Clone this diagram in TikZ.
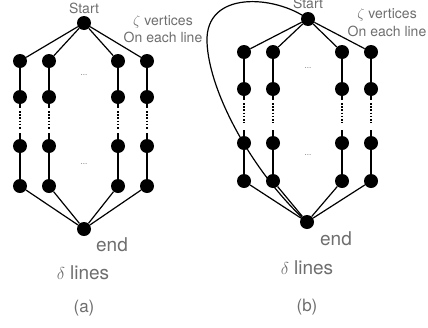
\documentclass[tikz,border=0pt]{standalone}
\usepackage{fontspec}
\setmainfont{TeX Gyre Heros}
\begin{document}
\begin{tikzpicture}[x=1pt,y=-1pt,
  vtx/.style={circle,fill=black,inner sep=0pt,minimum size=14pt},
  edge/.style={line width=1.2pt,black},
  dotseg/.style={line width=1.2pt,black,dash pattern=on 1.6pt off 1.6pt},
  lbl/.style={text=black!57,inner sep=0pt,font=\fontsize{14}{14}\selectfont},
  big/.style={text=black!57,inner sep=0pt,font=\fontsize{19}{19}\selectfont},
  captxt/.style={text=black!57,inner sep=0pt,font=\fontsize{17}{17}\selectfont},
  ell/.style={text=black!57,inner sep=0pt,font=\fontsize{8}{8}\selectfont}]
\useasboundingbox (0,0) rectangle (428,327);
% ---------- panel (a) ----------
\node[vtx] (sa) at (84,23) {};
\node[vtx] (ea) at (84,229) {};
\foreach \c/\x in {1/20,2/49,3/118,4/147}{
  \node[vtx] (a\c1) at (\x,61) {};
  \node[vtx] (a\c2) at (\x,97) {};
  \node[vtx] (a\c3) at (\x,146) {};
  \node[vtx] (a\c4) at (\x,186) {};
  \draw[edge] (sa) -- (a\c1);
  \draw[edge] (a\c1) -- (a\c2);
  \draw[edge] (a\c2.center) -- ++(0,11) coordinate (a\c u);
  \draw[dotseg] ([yshift=-3pt]a\c u) -- ([yshift=-21pt]a\c u);
  \draw[edge] (a\c3.center) -- ++(0,-13);
  \draw[edge] (a\c3) -- (a\c4);
  \draw[edge] (a\c4) -- (ea);
}
\node[lbl] (sta) at (84,8) {Start};
\node[lbl] (za) at (163,22) {$\zeta$ vertices};
\node[lbl] (oa) at (163,37) {On each line};
\node[ell] (d1a) at (84,75) {...};
\node[ell] (d2a) at (84,164) {...};
\node[big] (ena) at (112,245) {end};
\node[big] (dla) at (83,273) {$\delta$ lines};
\node[captxt] (ca) at (84,308) {(a)};
% ---------- panel (b) ----------
\node[vtx] (sb) at (308,19) {};
\node[vtx] (eb) at (307,222) {};
\foreach \c/\x in {1/244,2/273,3/342,4/371}{
  \node[vtx] (b\c1) at (\x,52) {};
  \node[vtx] (b\c2) at (\x,89) {};
  \node[vtx] (b\c3) at (\x,143) {};
  \node[vtx] (b\c4) at (\x,181) {};
  \draw[edge] (sb) -- (b\c1);
  \draw[edge] (b\c1) -- (b\c2);
  \draw[edge] (b\c2.center) -- ++(0,11) coordinate (b\c u);
  \draw[dotseg] ([yshift=-3pt]b\c u) -- ([yshift=-23pt]b\c u);
  \draw[edge] (b\c3.center) -- ++(0,-13);
  \draw[edge] (b\c3) -- (b\c4);
  \draw[edge] (b\c4) -- (eb);
}
\draw[edge] (sb.center) .. controls (275,-5) and (205,-10) .. (207,42)
  .. controls (209,94) and (255,175) .. (eb.center);
\node[lbl] (stb) at (308,3) {Start};
\node[lbl] (zb) at (387,15) {$\zeta$ vertices};
\node[lbl] (ob) at (387,31) {On each line};
\node[ell] (d1b) at (308,68) {...};
\node[ell] (d2b) at (308,155) {...};
\node[big] (enb) at (336,239) {end};
\node[big] (dlb) at (307,268) {$\delta$ lines};
\node[captxt] (cb) at (307,307) {(b)};
\end{tikzpicture}
\end{document}
